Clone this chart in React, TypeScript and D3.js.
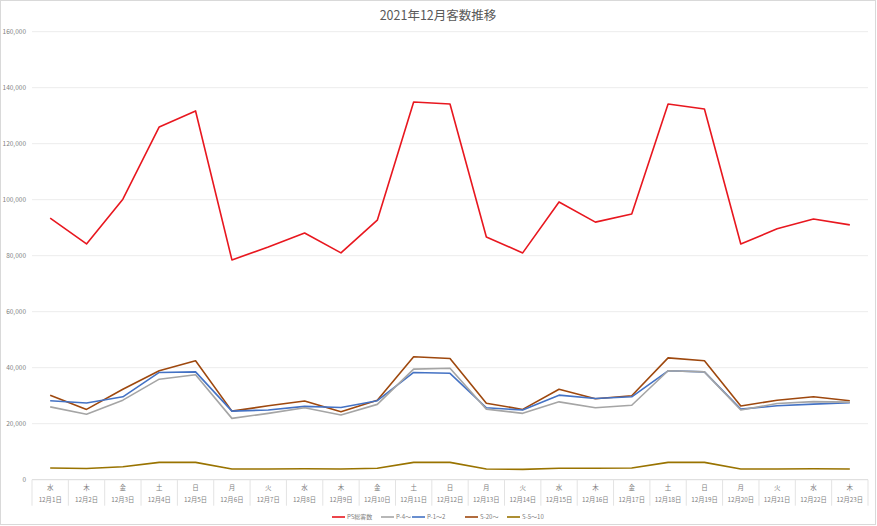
import { useEffect, useRef } from "react";
import * as d3 from "d3";

// ------- data -------
const dates = [
  "12月1日", "12月2日", "12月3日", "12月4日", "12月5日", "12月6日", "12月7日", "12月8日",
  "12月9日", "12月10日", "12月11日", "12月12日", "12月13日", "12月14日", "12月15日", "12月16日",
  "12月17日", "12月18日", "12月19日", "12月20日", "12月21日", "12月22日", "12月23日",
];
const weekdays = [
  "水", "木", "金", "土", "日", "月", "火", "水", "木", "金", "土", "日",
  "月", "火", "水", "木", "金", "土", "日", "月", "火", "水", "木",
];

const psTotal = [
  93400, 84200, 100200, 126000, 131700, 78500, 83100, 88100, 81000, 92700, 134900, 134200,
  86700, 81000, 99200, 92000, 94900, 134200, 132400, 84200, 89600, 93100, 91000,
];
const p4 = [
  26000, 23400, 28400, 35900, 37500, 21900, 23700, 25700, 23100, 26900, 39500, 39800,
  25200, 23700, 27800, 25700, 26600, 38900, 38500, 24900, 27200, 27900, 27700,
];
const p12 = [
  28200, 27400, 29600, 38300, 38500, 24500, 24900, 26200, 25800, 28200, 38300, 38000,
  25700, 24900, 30200, 29000, 29600, 38900, 38500, 25200, 26400, 27000, 27500,
];
const s20 = [
  30200, 25100, 32300, 38900, 42500, 24500, 26400, 28100, 24300, 28400, 43900, 43300,
  27300, 25100, 32300, 28900, 30000, 43500, 42500, 26300, 28400, 29600, 28200,
];
const s510 = [
  4200, 4000, 4600, 6200, 6200, 3800, 3800, 3900, 3800, 4100, 6200, 6200,
  3800, 3700, 4100, 4100, 4200, 6200, 6200, 3800, 3800, 3900, 3800,
];

const yTicks = [0, 20000, 40000, 60000, 80000, 100000, 120000, 140000, 160000];

const series = [
  { name: "PS総客数", values: psTotal, color: "#e8171f" },
  { name: "P-4～", values: p4, color: "#a5a5a5" },
  { name: "P-1～2", values: p12, color: "#4472c4" },
  { name: "S-20～", values: s20, color: "#9e480e" },
  { name: "S-5～10", values: s510, color: "#997300" },
];

const FONT = "'Noto Sans CJK JP', 'Noto Sans', sans-serif";

export default function App() {
  const ref = useRef<SVGSVGElement | null>(null);

  useEffect(() => {
    const svgEl = ref.current;
    if (!svgEl) return;

    // ------- sizing -------
    const width = 877;
    const height = 526;
    const plot = { left: 32, right: 868, top: 31.7, bottom: 479.7 };

    const svg = d3.select(svgEl);
    svg.selectAll("*").remove();
    svg.attr("width", width).attr("height", height).style("font-family", FONT);

    // chart frame
    svg.append("rect")
      .attr("x", 0.5).attr("y", 0.5)
      .attr("width", width - 2).attr("height", height - 2)
      .attr("fill", "#fff").attr("stroke", "#d9d9d9");

    // ------- scales -------
    const x = d3.scaleBand<number>()
      .domain(d3.range(dates.length))
      .range([plot.left, plot.right]);
    const cx = (i: number) => x(i)! + x.bandwidth() / 2;
    const y = d3.scaleLinear().domain([0, 160000]).range([plot.bottom, plot.top]);

    // ------- gridlines + y labels -------
    const grid = svg.append("g");
    grid.selectAll("line")
      .data(yTicks.slice(1))
      .enter()
      .append("line")
      .attr("x1", plot.left).attr("x2", plot.right)
      .attr("y1", (d) => y(d)).attr("y2", (d) => y(d))
      .attr("stroke", "#ececec").attr("stroke-width", 1);

    svg.append("g").selectAll("text")
      .data(yTicks)
      .enter()
      .append("text")
      .attr("x", 26)
      .attr("y", (d) => y(d))
      .attr("dy", "0.35em")
      .attr("text-anchor", "end")
      .attr("font-size", 6.5)
      .attr("fill", "#7f7f7f")
      .text((d) => d3.format(",")(d));

    // ------- category axis -------
    const axis = svg.append("g");
    axis.append("line")
      .attr("x1", plot.left).attr("x2", plot.right)
      .attr("y1", plot.bottom).attr("y2", plot.bottom)
      .attr("stroke", "#d9d9d9");
    axis.selectAll("line.sep")
      .data(d3.range(dates.length + 1))
      .enter()
      .append("line")
      .attr("class", "sep")
      .attr("x1", (i) => plot.left + i * x.bandwidth())
      .attr("x2", (i) => plot.left + i * x.bandwidth())
      .attr("y1", plot.bottom).attr("y2", plot.bottom + 26)
      .attr("stroke", "#e3e3e3");
    axis.selectAll("text.wd")
      .data(weekdays)
      .enter()
      .append("text")
      .attr("class", "wd")
      .attr("x", (_, i) => cx(i))
      .attr("y", plot.bottom + 8.5)
      .attr("dy", "0.35em")
      .attr("text-anchor", "middle")
      .attr("font-size", 6.5)
      .attr("fill", "#7f7f7f")
      .text((d) => d);
    axis.selectAll("text.dt")
      .data(dates)
      .enter()
      .append("text")
      .attr("class", "dt")
      .attr("x", (_, i) => cx(i))
      .attr("y", plot.bottom + 20.5)
      .attr("dy", "0.35em")
      .attr("text-anchor", "middle")
      .attr("font-size", 6.3)
      .attr("fill", "#7f7f7f")
      .text((d) => d);

    // ------- lines -------
    const line = d3.line<number>()
      .x((_, i) => cx(i))
      .y((d) => y(d));

    svg.append("g").selectAll("path")
      .data([...series].reverse())
      .enter()
      .append("path")
      .attr("d", (s) => line(s.values))
      .attr("fill", "none")
      .attr("stroke", (s) => s.color)
      .attr("stroke-width", 1.6)
      .attr("stroke-linejoin", "round");

    // ------- title -------
    svg.append("text")
      .attr("x", 438)
      .attr("y", 16)
      .attr("dy", "0.35em")
      .attr("text-anchor", "middle")
      .attr("font-size", 12.5)
      .attr("fill", "#595959")
      .text("2021年12月客数推移");

    // ------- legend -------
    const legendX = [332, 381, 412, 465, 507];
    const lg = svg.append("g");
    const items = lg.selectAll("g")
      .data(series)
      .enter()
      .append("g")
      .attr("transform", (_, i) => `translate(${legendX[i]},517)`);
    items.append("line")
      .attr("x1", 0).attr("x2", 13)
      .attr("stroke", (s) => s.color)
      .attr("stroke-width", 1.6);
    items.append("text")
      .attr("x", 15)
      .attr("dy", "0.35em")
      .attr("font-size", 6)
      .attr("fill", "#7f7f7f")
      .text((s) => s.name);
  }, []);

  return (
    <div style={{ position: "absolute", left: 0, top: 0 }}>
      <svg ref={ref} style={{ display: "block" }} />
    </div>
  );
}
